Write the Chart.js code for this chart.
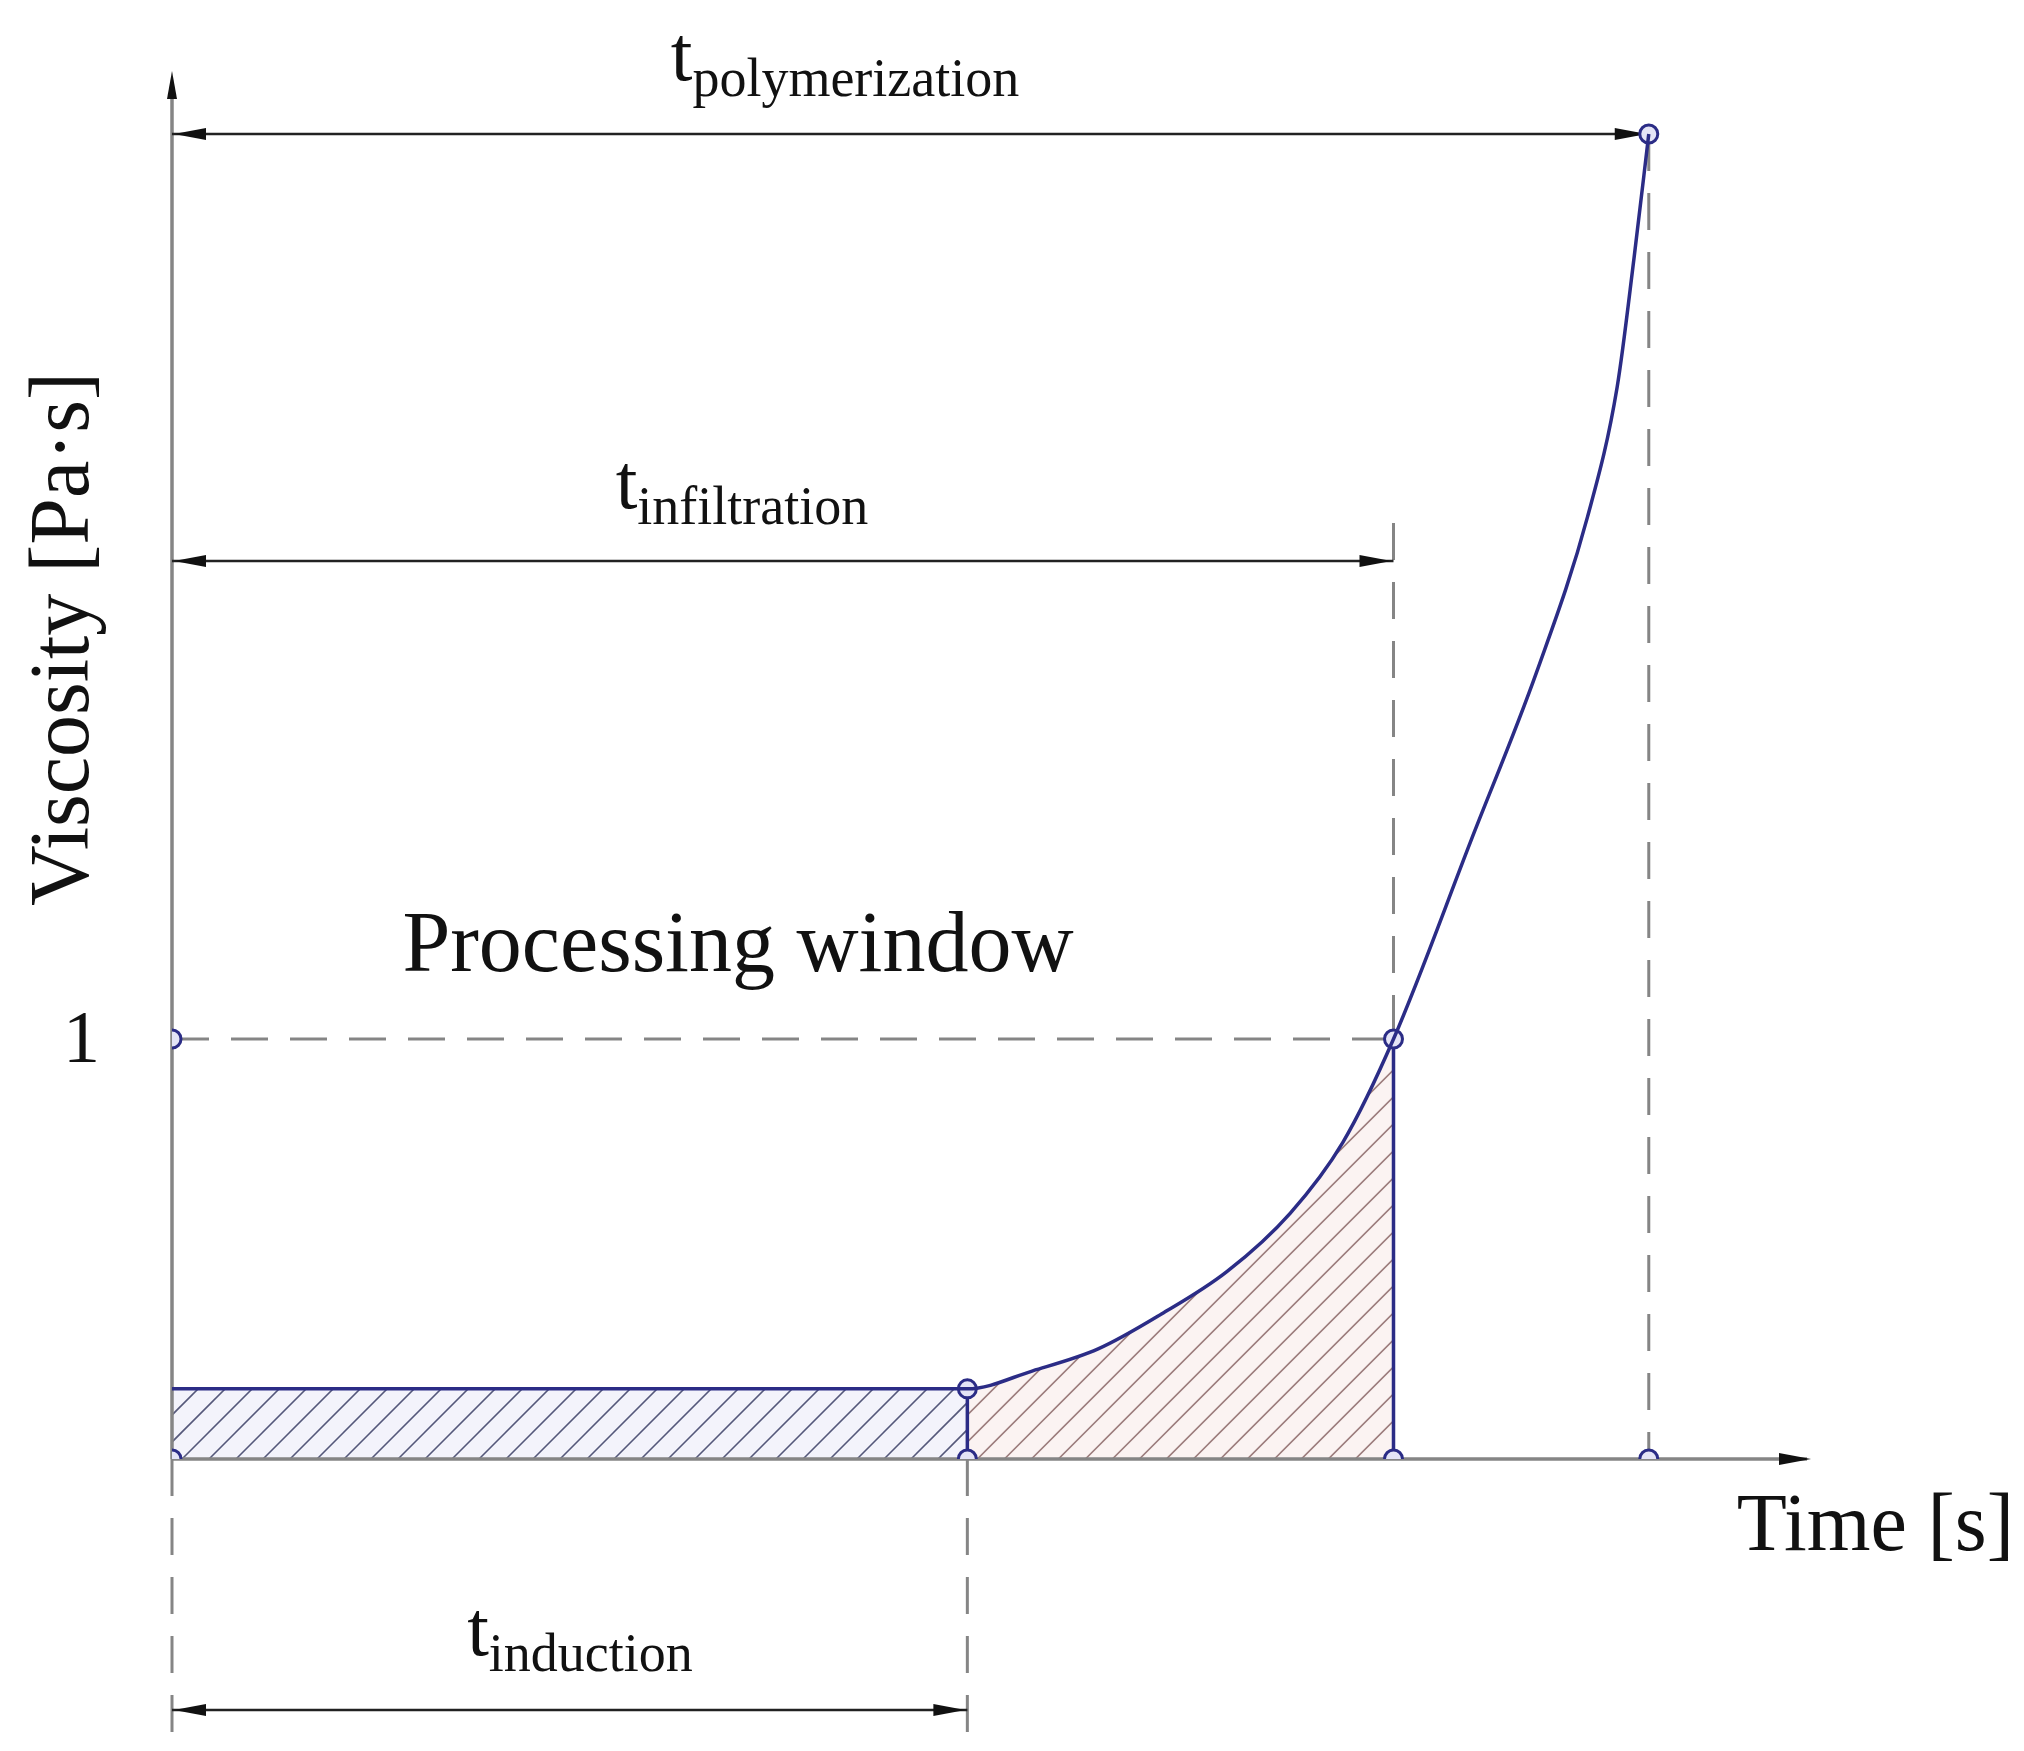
<!DOCTYPE html>
<html><head><meta charset="utf-8">
<script src="https://cdn.jsdelivr.net/npm/chart.js@4"></script>
<style>html,body{margin:0;padding:0;background:#fff}#w{width:2024px;height:1751px}</style>
</head><body><div id="w"><canvas id="c"></canvas></div>
<script>
// Characteristic times (arbitrary units) and viscosity levels
const tInduction = 3.77;
const tInfiltration = 5.79;
const tPolymerization = 7.0;
const viscosityLimit = 1;
const viscosityPlateau = 0.167;
const viscosityTop = 3.155;
// Curve samples
const curveTime = [0, 3.77, 4.08, 4.39, 4.69, 5.0, 5.30, 5.55, 5.79, 6.16, 6.47, 6.71, 6.85, 6.93, 7.0];
const curveVisc = [0.167, 0.167, 0.210, 0.262, 0.345, 0.446, 0.585, 0.754, 1.0, 1.476, 1.876, 2.244, 2.552, 2.859, 3.155];
const xMax = 7.75, yMax = 3.305;
const labels = {poly:'polymerization', inf:'infiltration', ind:'induction', window:'Processing window', x:'Time [s]', y:'Viscosity [Pa·s]', one:'1'};

const NAVY = '#2b2c86', GREY = '#858585', SERIF = '"Liberation Serif", "DejaVu Serif", serif';

const keyPoints = [
  {x:0,y:0},{x:0,y:viscosityLimit},{x:tInduction,y:0},{x:tInduction,y:viscosityPlateau},
  {x:tInfiltration,y:0},{x:tInfiltration,y:viscosityLimit},{x:tPolymerization,y:0},{x:tPolymerization,y:viscosityTop}
];

function arrowHead(ctx, x, y, dir){
  ctx.save(); ctx.fillStyle='#111'; ctx.beginPath();
  if(dir==='up'){ ctx.moveTo(x,y); ctx.lineTo(x-5,y+28); ctx.lineTo(x+5,y+28); }
  else { ctx.moveTo(x,y); ctx.lineTo(x-dir*32,y-6); ctx.lineTo(x-dir*32,y+6); }
  ctx.closePath(); ctx.fill(); ctx.restore();
}
function dimArrow(ctx,x1,x2,y){
  ctx.save(); ctx.strokeStyle='#222'; ctx.lineWidth=2.5; ctx.beginPath(); ctx.moveTo(x1,y); ctx.lineTo(x2,y); ctx.stroke(); ctx.restore();
  arrowHead(ctx,x1+2,y,-1); arrowHead(ctx,x2-2,y,1);
}
function subText(ctx, main, sub, cx, baseline){
  ctx.save(); ctx.fillStyle='#111';
  ctx.font='78px '+SERIF; const w1=ctx.measureText(main).width;
  ctx.font='54px '+SERIF; const w2=ctx.measureText(sub).width;
  let x=cx-(w1+w2)/2; ctx.textBaseline='alphabetic'; ctx.textAlign='left';
  ctx.font='78px '+SERIF; ctx.fillText(main,x,baseline);
  ctx.font='54px '+SERIF; ctx.fillText(sub,x+w1,baseline+16);
  ctx.restore();
}
function line(ctx,x1,y1,x2,y2,color,w,dash){
  ctx.save(); ctx.strokeStyle=color; ctx.lineWidth=w; ctx.setLineDash(dash||[]);
  ctx.beginPath(); ctx.moveTo(x1,y1); ctx.lineTo(x2,y2); ctx.stroke(); ctx.restore();
}

const deco = {
  id:'deco',
  beforeDatasetsDraw(chart){
    const ctx=chart.ctx, xs=chart.scales.x, ys=chart.scales.y;
    const X=v=>xs.getPixelForValue(v), Y=v=>ys.getPixelForValue(v);
    const x0=X(0), y0=Y(0);
    const pts=chart.getDatasetMeta(0).data;
    function curvePath(){
      ctx.beginPath(); ctx.moveTo(X(0),y0);
      ctx.lineTo(pts[0].x,pts[0].y);
      for(let i=1;i<pts.length;i++){
        const p=pts[i-1], q=pts[i];
        ctx.bezierCurveTo(p.cp2x??p.x,p.cp2y??p.y,q.cp1x??q.x,q.cp1y??q.y,q.x,q.y);
      }
      ctx.lineTo(pts[pts.length-1].x,y0); ctx.closePath();
    }
    function hatch(xa,xb,color,bg){
      ctx.save(); curvePath(); ctx.clip();
      ctx.beginPath(); ctx.rect(xa,0,xb-xa,y0); ctx.clip();
      ctx.fillStyle=bg; ctx.fillRect(xa,0,xb-xa,y0);
      ctx.strokeStyle=color; ctx.lineWidth=1.6;
      for(let s=xa-800;s<xb+50;s+=27){ ctx.beginPath(); ctx.moveTo(s,y0); ctx.lineTo(s+800,y0-800); ctx.stroke(); }
      ctx.restore();
    }
    hatch(X(0),X(tInduction),'#55587a','#f3f3fb');
    hatch(X(tInduction),X(tInfiltration),'#9a7a7a','#fbf3f2');
    line(ctx,x0,Y(yMax)+20,x0,y0,GREY,3.5);
    line(ctx,x0,y0,X(xMax),y0,GREY,3.5);
    arrowHead(ctx,x0,Y(yMax),'up');
    arrowHead(ctx,X(xMax)+4,y0,1);
    line(ctx,x0,Y(viscosityLimit),X(tInfiltration),Y(viscosityLimit),GREY,3,[37,22]);
    line(ctx,X(tInfiltration),523,X(tInfiltration),Y(viscosityLimit),GREY,3,[37,22]);
    line(ctx,X(tPolymerization),Y(viscosityTop),X(tPolymerization),y0,GREY,3,[37,22]);
    line(ctx,x0,y0,x0,1740,GREY,3,[37,22]);
    line(ctx,X(tInduction),y0,X(tInduction),1740,GREY,3,[37,22]);
    line(ctx,X(tInduction),Y(viscosityPlateau),X(tInduction),y0,NAVY,3.5);
    line(ctx,X(tInfiltration),Y(viscosityLimit),X(tInfiltration),y0,NAVY,3.5);
    dimArrow(ctx,x0,X(tPolymerization),Y(viscosityTop));
    dimArrow(ctx,x0,X(tInfiltration),561);
    dimArrow(ctx,x0,X(tInduction),1710);
    subText(ctx,'t',labels.poly,845,80);
    subText(ctx,'t',labels.inf,742,508);
    subText(ctx,'t',labels.ind,580,1655);
    ctx.save(); ctx.fillStyle='#111'; ctx.textBaseline='alphabetic';
    ctx.font='86px '+SERIF; ctx.textAlign='center'; ctx.fillText(labels.window,738,971);
    ctx.font='74px '+SERIF; ctx.textAlign='right'; ctx.fillText(labels.one,100,1062);
    ctx.font='82px '+SERIF; ctx.textAlign='right'; ctx.fillText(labels.x,2014,1550);
    ctx.translate(88,639); ctx.rotate(-Math.PI/2); ctx.textAlign='center'; ctx.font='84px '+SERIF; ctx.fillText(labels.y,0,0);
    ctx.restore();
  }
};

new Chart(document.getElementById('c'),{
  type:'line',
  data:{datasets:[
    {data:curveTime.map((t,i)=>({x:t,y:curveVisc[i]})),borderColor:NAVY,borderWidth:3.5,pointRadius:0,cubicInterpolationMode:'monotone',fill:false},
    {data:keyPoints,showLine:false,pointRadius:9,pointBorderWidth:3,pointBorderColor:NAVY,pointBackgroundColor:'#e4e4f6'}
  ]},
  options:{
    responsive:true,maintainAspectRatio:false,animation:false,
    layout:{padding:{left:172,right:217,top:71,bottom:292}},
    plugins:{legend:{display:false},tooltip:{enabled:false}},
    scales:{
      x:{type:'linear',min:0,max:xMax,display:false},
      y:{type:'linear',min:0,max:yMax,display:false}
    }
  },
  plugins:[deco]
});
</script></body></html>
